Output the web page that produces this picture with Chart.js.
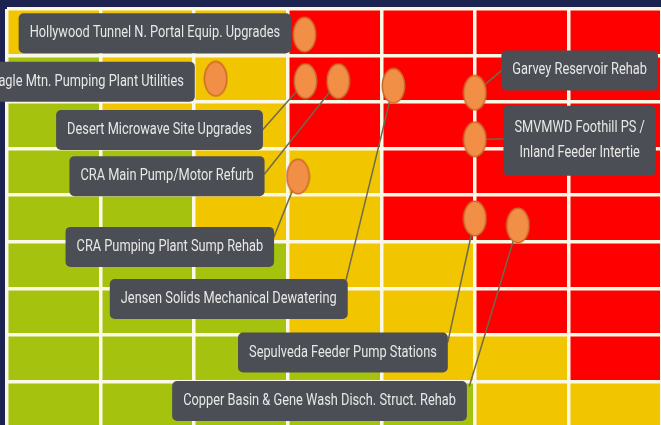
<!DOCTYPE html>
<html lang="en">
<head>
<meta charset="UTF-8">
<title>Project Risk Matrix</title>
<script src="https://cdn.jsdelivr.net/npm/chart.js"></script>
<style>
  html, body { margin: 0; padding: 0; background: #1d2351; overflow: hidden; }
  canvas { display: block; }
</style>
</head>
<body>
<!-- slightly larger than the window: the matrix runs off the right and bottom edges -->
<canvas id="riskChart" width="663" height="429"></canvas>
<script>
// zone of each cell, top row first: 1 = low (green), 2 = medium (yellow), 3 = high (red)
const zoneRows = [
  [2, 2, 2, 3, 3, 3, 3],
  [1, 2, 2, 3, 3, 3, 3],
  [1, 2, 2, 3, 3, 3, 3],
  [1, 1, 2, 2, 3, 3, 3],
  [1, 1, 2, 2, 3, 3, 3],
  [1, 1, 1, 2, 2, 3, 3],
  [1, 1, 1, 2, 2, 3, 3],
  [1, 1, 1, 1, 2, 2, 3],
  [1, 1, 1, 1, 1, 2, 2]
];

const projects = [
  ['Hollywood Tunnel N. Portal Equip. Upgrades'],
  ['Eagle Mtn. Pumping Plant Utilities'],
  ['Desert Microwave Site Upgrades'],
  ['CRA Main Pump/Motor Refurb'],
  ['Jensen Solids Mechanical Dewatering'],
  ['Garvey Reservoir Rehab'],
  ['SMVMWD Foothill PS /', 'Inland Feeder Intertie'],
  ['CRA Pumping Plant Sump Rehab'],
  ['Sepulveda Feeder Pump Stations'],
  ['Copper Basin & Gene Wash Disch. Struct. Rehab']
];
const consequence = [3.18, 2.23, 3.19, 3.54, 4.13, 5.0, 5.0, 3.11, 5.0, 5.46];
const likelihood  = [8.45, 7.5, 7.45, 7.45, 7.35, 7.2, 6.2, 5.4, 4.5, 4.35];

// callout layout (axis units): box centre, and where the leader line leaves the box
const labelAt = [
  [1.58, 8.48], [0.86, 7.44], [1.63, 6.40], [1.71, 5.41], [2.37, 2.77],
  [6.12, 7.68], [6.12, 6.17], [1.74, 3.89], [3.59, 1.62], [3.34, 0.58]
];
const leaderFrom = [
  null, null, [2.72, 6.38], [2.75, 5.45], [3.61, 3.07],
  [5.33, 7.75], [5.33, 6.21], [2.85, 4.09], [4.71, 1.84], [4.94, 0.89]
];

const zoneColors = { 1: '#a4c20e', 2: '#f1c500', 3: '#fe0000' };
const SQUEEZE = 0.8;

// orange oval marker
const blob = document.createElement('canvas');
blob.width = 25; blob.height = 37;
(function () {
  const c = blob.getContext('2d');
  c.beginPath();
  c.ellipse(12.5, 18.5, 11.2, 17.2, 0, 0, Math.PI * 2);
  c.fillStyle = '#f28f46';
  c.fill();
  c.lineWidth = 1.5;
  c.strokeStyle = '#c9692b';
  c.stroke();
})();

const matrixPlugin = {
  id: 'matrix',
  beforeDraw(chart) {
    const { ctx, scales: { x, y } } = chart;
    ctx.save();
    ctx.fillStyle = '#1d2351';
    ctx.fillRect(0, 0, chart.width, chart.height);
    const nRows = zoneRows.length;
    zoneRows.forEach((row, r) => {
      row.forEach((z, c) => {
        const x0 = x.getPixelForValue(c), x1 = x.getPixelForValue(c + 1);
        const y0 = y.getPixelForValue(nRows - r), y1 = y.getPixelForValue(nRows - r - 1);
        ctx.fillStyle = zoneColors[z];
        ctx.fillRect(x0, y0, x1 - x0, y1 - y0);
      });
    });
    ctx.restore();
  },
  beforeDatasetsDraw(chart) {
    const { ctx, scales: { x, y } } = chart;
    ctx.save();
    ctx.strokeStyle = '#6e6a4e';
    ctx.lineWidth = 1.5;
    leaderFrom.forEach((p, i) => {
      if (!p) return;
      ctx.beginPath();
      ctx.moveTo(x.getPixelForValue(p[0]), y.getPixelForValue(p[1]));
      ctx.lineTo(x.getPixelForValue(consequence[i]), y.getPixelForValue(likelihood[i]));
      ctx.stroke();
    });
    ctx.restore();
  },
  afterDatasetsDraw(chart) {
    const { ctx, scales: { x, y } } = chart;
    ctx.save();
    ctx.font = '16px Roboto';
    ctx.textAlign = 'center';
    ctx.textBaseline = 'middle';
    projects.forEach((lines, i) => {
      const cx = x.getPixelForValue(labelAt[i][0]);
      const cy = y.getPixelForValue(labelAt[i][1]);
      const tw = Math.max(...lines.map(t => ctx.measureText(t).width)) * SQUEEZE;
      const w = tw + 22;
      const h = lines.length > 1 ? 70 : 40;
      ctx.fillStyle = '#4b4e55';
      ctx.beginPath();
      ctx.roundRect(cx - w / 2, cy - h / 2, w, h, 5);
      ctx.fill();
      ctx.fillStyle = '#e8e8e6';
      lines.forEach((t, k) => {
        const ly = cy + (k - (lines.length - 1) / 2) * 25;
        ctx.save();
        ctx.translate(cx, ly);
        ctx.scale(SQUEEZE, 1);
        ctx.fillText(t, 0, 0);
        ctx.restore();
      });
    });
    ctx.restore();
  }
};

new Chart(document.getElementById('riskChart'), {
  type: 'scatter',
  data: {
    datasets: [{
      label: 'Projects',
      data: consequence.map((v, i) => ({ x: v, y: likelihood[i] })),
      pointStyle: blob,
      pointRadius: 1,
      pointHoverRadius: 1,
      pointBorderWidth: 0,
      pointHoverBorderWidth: 0
    }]
  },
  options: {
    responsive: false,
    animation: false,
    layout: { padding: { left: 7, top: 9, right: 0, bottom: 0 } },
    plugins: { legend: { display: false }, tooltip: { enabled: false } },
    scales: {
      x: {
        type: 'linear', min: 0, max: 7,
        ticks: { display: false, stepSize: 1 },
        grid: { color: '#fbf8e6', lineWidth: 3.5, drawTicks: false },
        border: { display: false },
        afterFit: s => { s.height = 0; }
      },
      y: {
        type: 'linear', min: 0, max: 9,
        ticks: { display: false, stepSize: 1 },
        grid: { color: '#fbf8e6', lineWidth: 3.5, drawTicks: false },
        border: { display: false },
        afterFit: s => { s.width = 0; }
      }
    }
  },
  plugins: [matrixPlugin]
});
</script>
</body>
</html>
